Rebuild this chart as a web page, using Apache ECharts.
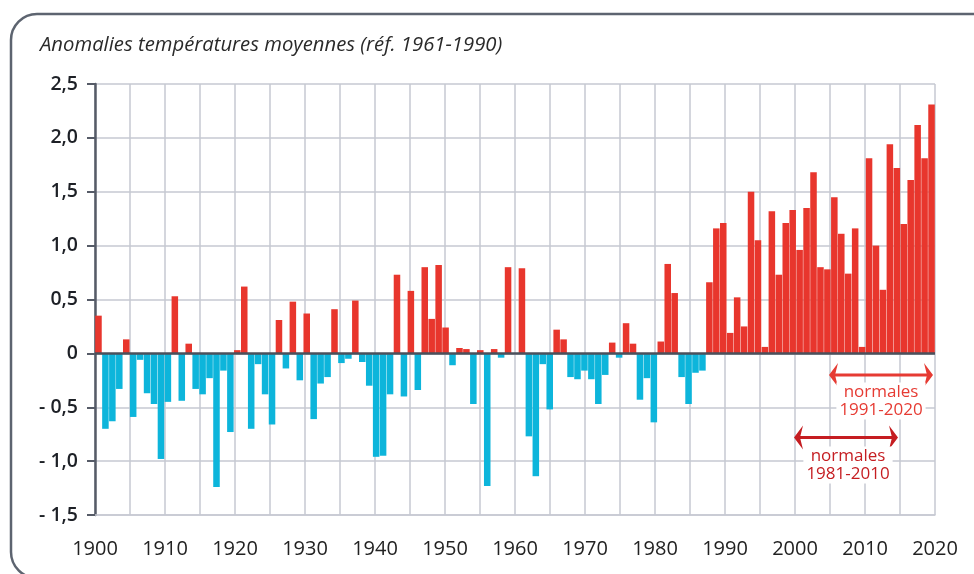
<!DOCTYPE html>
<html>
<head>
<meta charset="utf-8">
<script src="https://cdn.jsdelivr.net/npm/echarts@6/dist/echarts.min.js"></script>
<style>
  html, body { margin: 0; background: #fff; }
  #chart { width: 974px; height: 574px; }
</style>
</head>
<body>
<div id="chart"></div>
<script>
var firstYear = 1900;
var lastYear = 2020;
var years = [];
for (var yr = firstYear; yr <= lastYear; yr++) years.push(String(yr));

// anomalies vs 1961-1990, one per year 1900..2020
var anomalies = [
  0.35, -0.70, -0.63, -0.33, 0.13, -0.59, -0.06, -0.37, -0.47, -0.98,
  -0.45, 0.53, -0.44, 0.09, -0.33, -0.38, -0.23, -1.24, -0.16, -0.73,
  0.03, 0.62, -0.70, -0.10, -0.38, -0.66, 0.31, -0.14, 0.48, -0.25,
  0.37, -0.61, -0.28, -0.22, 0.41, -0.09, -0.05, 0.49, -0.08, -0.30,
  -0.96, -0.95, -0.38, 0.73, -0.40, 0.58, -0.34, 0.80, 0.32, 0.82,
  0.24, -0.11, 0.05, 0.04, -0.47, 0.03, -1.23, 0.04, -0.04, 0.80,
  0.00, 0.79, -0.77, -1.14, -0.10, -0.52, 0.22, 0.13, -0.22, -0.24,
  -0.16, -0.24, -0.47, -0.20, 0.10, -0.04, 0.28, 0.09, -0.43, -0.23,
  -0.64, 0.11, 0.83, 0.56, -0.22, -0.47, -0.18, -0.16, 0.66, 1.16,
  1.21, 0.19, 0.52, 0.25, 1.50, 1.05, 0.06, 1.32, 0.73, 1.21,
  1.33, 0.96, 1.35, 1.68, 0.80, 0.78, 1.45, 1.11, 0.74, 1.16,
  0.06, 1.81, 1.00, 0.59, 1.94, 1.72, 1.20, 1.61, 2.12, 1.81,
  2.31
];

var yMin = -1.5, yMax = 2.5, yStep = 0.5;

var red = '#e8362d';
var blue = '#0db5db';
var gridColor = '#c6c9d2';
var axisColor = '#565b67';
var font = "'Open Sans', sans-serif";

var chart = echarts.init(document.getElementById('chart'));

function arrow(x1, x2, y, color) {
  return [
    { type: 'line', shape: { x1: x1 + 4, y1: y, x2: x2 - 4, y2: y },
      style: { stroke: color, lineWidth: 3 }, z: 10 },
    { type: 'polygon', shape: { points: [[x1, y], [x1 + 9, y - 12], [x1 + 6, y], [x1 + 9, y + 12]] },
      style: { fill: color }, z: 10 },
    { type: 'polygon', shape: { points: [[x2, y], [x2 - 9, y - 12], [x2 - 6, y], [x2 - 9, y + 12]] },
      style: { fill: color }, z: 10 }
  ];
}

function label(x, y, text, color) {
  return {
    type: 'text', z: 10,
    style: {
      x: x, y: y, text: text, fill: color, font: '17px ' + font,
      align: 'center', verticalAlign: 'middle', lineHeight: 18.5,
      backgroundColor: '#fff', padding: [0, 3]
    }
  };
}

var option = {
  animation: false,
  title: {
    text: 'Anomalies températures moyennes (réf. 1961-1990)',
    left: 40, top: 35, padding: 0,
    textStyle: { fontFamily: font, fontStyle: 'italic', fontWeight: 'normal', fontSize: 20.3, color: '#2a2a2a' }
  },
  grid: { left: 95, right: 39, top: 84, bottom: 59 },
  xAxis: [
    { type: 'category', data: years, boundaryGap: true, show: false },
    {
      type: 'value', min: firstYear, max: lastYear, interval: 5, position: 'bottom',
      axisLine: { onZero: false, lineStyle: { color: gridColor, width: 1.5 } },
      axisTick: { show: false },
      splitLine: { show: true, lineStyle: { color: gridColor, width: 1.5 } },
      axisLabel: {
        margin: 24, fontSize: 20, color: '#222', fontFamily: font,
        formatter: function (v) { return v % 10 === 0 ? String(v) : ''; }
      }
    }
  ],
  yAxis: {
    type: 'value', min: yMin, max: yMax, interval: yStep,
    axisLine: { show: true, lineStyle: { color: axisColor, width: 2.5 } },
    axisTick: { show: true, length: 8, lineStyle: { color: axisColor, width: 2 } },
    splitLine: { lineStyle: { color: gridColor, width: 1.5 } },
    axisLabel: {
      margin: 17, fontSize: 19.5, fontWeight: 600, color: '#1d2026', fontFamily: font,
      formatter: function (v) {
        if (Math.abs(v) < 1e-9) return '0';
        var s = Math.abs(v).toFixed(1).replace('.', ',');
        return v < 0 ? '- ' + s : s;
      }
    }
  },
  series: [{
    type: 'bar',
    xAxisIndex: 0,
    data: anomalies,
    barCategoryGap: '6%',
    itemStyle: {
      color: function (p) { return p.value >= 0 ? red : blue; }
    },
    markLine: {
      silent: true,
      symbol: ['none', 'none'],
      label: { show: false },
      lineStyle: { color: '#4b505b', width: 2.5, type: 'solid' },
      data: [{ yAxis: 0 }]
    }
  }],
  graphic: [
    { type: 'rect', shape: { x: 11, y: 14, width: 1000, height: 564, r: 26 },
      style: { fill: 'none', stroke: '#5d6470', lineWidth: 2.5 } }
  ]
    .concat(arrow(829, 933, 375, '#e63b33'))
    .concat([label(881, 401, 'normales\n1991-2020', '#e63b33')])
    .concat(arrow(794, 898, 437.5, '#c51d21'))
    .concat([label(848, 465, 'normales\n1981-2010', '#c51d21')])
};

chart.setOption(option);
</script>
</body>
</html>
